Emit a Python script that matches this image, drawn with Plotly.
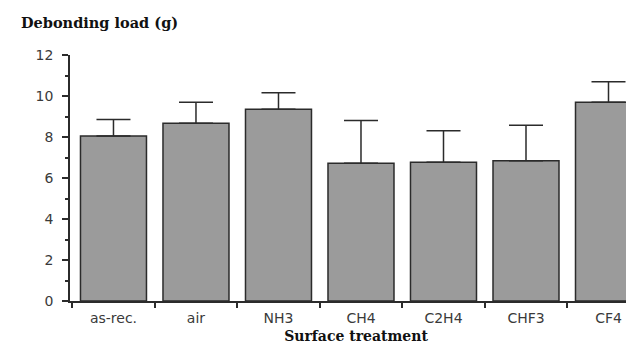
import plotly.graph_objects as go

categories = ["as-rec.", "air", "NH3", "CH4", "C2H4", "CHF3", "CF4"]
load_mean = [8.05, 8.67, 9.35, 6.72, 6.77, 6.84, 9.69]
load_err = [0.80, 1.02, 0.81, 2.08, 1.54, 1.73, 1.01]
y_ticks = [0, 2, 4, 6, 8, 10, 12]

W, H = 634, 347
L, R, T, B = 62, 0, 47, 54

fig = go.Figure()
fig.add_trace(go.Bar(
    x=categories, y=load_mean,
    marker=dict(color="#9b9b9b", line=dict(color="#2b2b2b", width=1.5)),
    error_y=dict(type="data", array=load_err, symmetric=False, arrayminus=[0]*len(load_err),
                 color="#2b2b2b", thickness=1.5, width=17),
    showlegend=False,
))

axis_color = "#2b2b2b"
fig.update_layout(
    width=W, height=H,
    margin=dict(l=L, r=R, t=T, b=B, pad=0),
    paper_bgcolor="white", plot_bgcolor="white",
    bargap=0.2,
    font=dict(family="DejaVu Sans", color="#333333"),
    xaxis=dict(
        type="category", range=[-0.527, 6.406],
        showline=True, linecolor=axis_color, linewidth=1.5,
        ticks="outside", tickson="boundaries", ticklen=5, tickcolor=axis_color, tickwidth=1.5,
        tickfont=dict(size=14, family="DejaVu Sans", color="#3a3a3a"),
        ticklabelstandoff=3,
        showgrid=False, zeroline=False,
        title=dict(text="<b>Surface treatment</b>",
                   font=dict(family="DejaVu Serif", size=14, color="#111111"),
                   standoff=7),
    ),
    yaxis=dict(
        range=[0, 12], tickvals=y_ticks,
        showline=True, linecolor=axis_color, linewidth=1.5,
        ticks="outside", ticklen=6, tickcolor=axis_color, tickwidth=1.5,
        minor=dict(dtick=1, ticks="outside", ticklen=3, tickcolor=axis_color, tickwidth=1.5),
        tickfont=dict(size=14, family="DejaVu Sans", color="#3a3a3a"),
        ticklabelstandoff=6,
        showgrid=False, zeroline=False,
    ),
)

fig.add_annotation(
    text="<b>Debonding load (g)</b>",
    xref="paper", yref="paper", x=(11 - L) / (W - L - R), y=1,
    xanchor="left", yanchor="bottom", yshift=22, showarrow=False,
    font=dict(family="DejaVu Serif", size=14.5, color="#111111"),
)

fig.write_html("out.html")
